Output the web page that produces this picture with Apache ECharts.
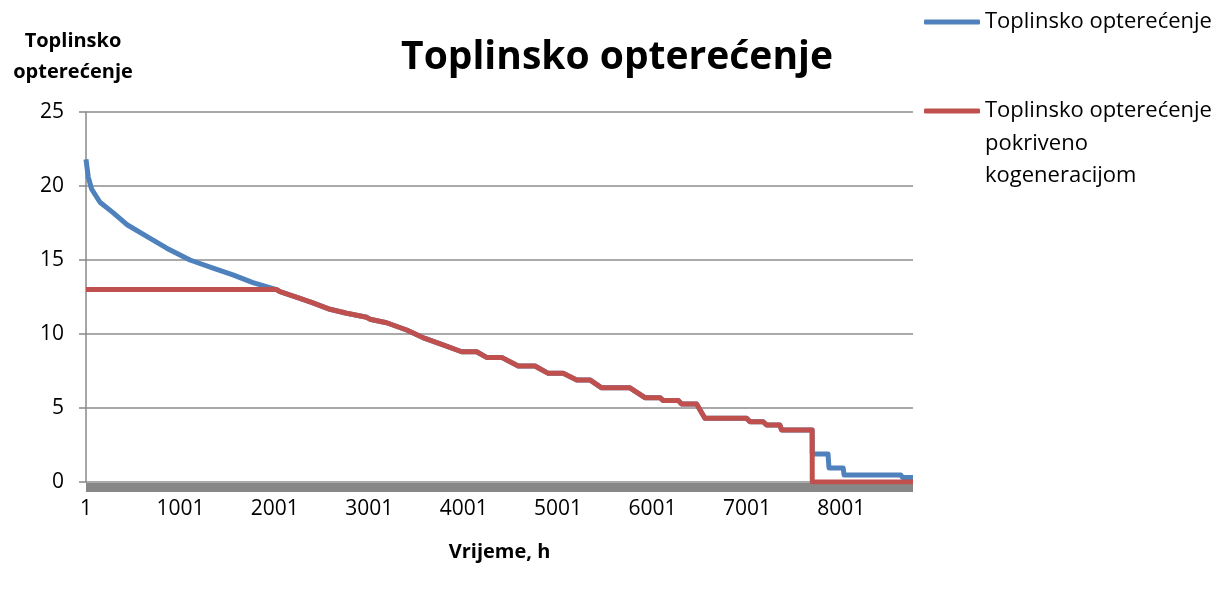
<!DOCTYPE html>
<html>
<head>
<meta charset="utf-8">
<script src="https://cdn.jsdelivr.net/npm/echarts@6/dist/echarts.min.js"></script>
<style>
html,body{margin:0;padding:0;background:#fff;}
#chart{width:1228px;height:589px;}
</style>
</head>
<body>
<div id="chart"></div>
<script>
// ---- data ----
const titleText = 'Toplinsko opterećenje';
const yAxisTitle = 'Toplinsko\nopterećenje';
const xAxisTitle = 'Vrijeme, h';
const seriesNames = ['Toplinsko opterećenje', 'Toplinsko opterećenje pokriveno kogeneracijom'];
const xTickLabels = [1, 1001, 2001, 3001, 4001, 5001, 6001, 7001, 8001];
const yTicks = [0, 5, 10, 15, 20, 25];

// Blue curve, hours 1..2020 (above the cogeneration cap)
const blueHeadHours = [1, 25, 60, 149, 287, 432, 644, 856, 1102, 1347, 1557, 1769, 2020];
const blueHeadLoad  = [21.8, 20.6, 19.8, 18.9, 18.2, 17.4, 16.6, 15.8, 15.0, 14.45, 14.0, 13.47, 13.0];

// Red flat part (capped at 13)
const redHeadHours = [1, 2020];
const redHeadLoad  = [13.0, 13.0];

// Shared part of both curves (2020..7692)
const sharedHours = [2055, 2267, 2404, 2585, 2762, 2974, 3008, 3185, 3397, 3591, 3768, 3980, 4138, 4244, 4403, 4579, 4756, 4897, 5055, 5198, 5338, 5462, 5762, 5921, 6080, 6115, 6274, 6310, 6468, 6556, 6998, 7034, 7173, 7209, 7350, 7368, 7692];
const sharedLoad  = [12.86, 12.41, 12.1, 11.67, 11.4, 11.13, 11.0, 10.76, 10.27, 9.7, 9.3, 8.8, 8.8, 8.42, 8.42, 7.84, 7.84, 7.34, 7.34, 6.9, 6.9, 6.36, 6.36, 5.7, 5.7, 5.5, 5.5, 5.27, 5.27, 4.3, 4.3, 4.07, 4.07, 3.85, 3.85, 3.51, 3.51];

// Tails
const blueTailHours = [7693, 7860, 7870, 8020, 8030, 8630, 8650, 8760];
const blueTailLoad  = [1.9, 1.9, 0.95, 0.95, 0.47, 0.47, 0.3, 0.3];
const redTailHours = [7693, 8760];
const redTailLoad  = [0, 0];

function pairs(hs, vs){ return hs.map((h,i)=>[h, vs[i]]); }
const blueData = pairs(blueHeadHours, blueHeadLoad).concat(pairs(sharedHours, sharedLoad), pairs(blueTailHours, blueTailLoad));
const redData  = pairs(redHeadHours, redHeadLoad).concat(pairs(sharedHours, sharedLoad), pairs(redTailHours, redTailLoad));

const FONT = '"Open Sans", Lato, sans-serif';
const chart = echarts.init(document.getElementById('chart'), null, {renderer:'canvas'});
chart.setOption({
  animation: false,
  backgroundColor: '#ffffff',
  textStyle: {fontFamily: FONT, color: '#000'},
  title: {
    text: titleText, left: 612, top: 33, textAlign: 'center',
    textStyle: {fontFamily: FONT, fontSize: 39, fontWeight: 'bold', color: '#000'}
  },
  legend: [
    {data: [seriesNames[0]], left: 924, top: 11, orient: 'vertical', padding: 0,
     icon: 'roundRect', itemWidth: 56, itemHeight: 5,
     textStyle: {fontFamily: FONT, fontSize: 22, color: '#000'}},
    {data: [seriesNames[1]], left: 924, top: 100, orient: 'vertical', padding: 0,
     icon: 'roundRect', itemWidth: 56, itemHeight: 5,
     formatter: () => 'Toplinsko opterećenje',
     textStyle: {fontFamily: FONT, fontSize: 22, color: '#000'}}
  ],
  graphic: [
    {type: 'text', left: 985, top: 128,
     style: {text: 'pokriveno\nkogeneracijom', font: '22px ' + FONT, fill: '#000', lineHeight: 32}}
  ],
  grid: {left: 86, right: 315, top: 112, bottom: 107, containLabel: false},
  xAxis: {
    type: 'value', min: 1, max: 8760,
    offset: 5,
    name: xAxisTitle, nameLocation: 'middle', nameGap: 55,
    nameTextStyle: {fontFamily: FONT, fontSize: 20, fontWeight: 'bold', color: '#000'},
    axisLine: {show: true, onZero: false, lineStyle: {color: '#878787', width: 9, cap: 'butt'}},
    axisTick: {show: false},
    splitLine: {show: false},
    axisLabel: {customValues: xTickLabels, formatter: v => String(v), margin: 12, fontFamily: FONT, fontSize: 21, color: '#000'}
  },
  yAxis: {
    type: 'value', min: 0, max: 25, interval: 5,
    name: yAxisTitle, nameLocation: 'end', nameGap: 24,
    nameTextStyle: {fontFamily: FONT, fontSize: 20, fontWeight: 'bold', color: '#000', align: 'center', lineHeight: 31, padding: [0, 26, 0, 0]},
    axisLine: {show: true, lineStyle: {color: '#888', width: 1.5}},
    axisTick: {show: true, length: 7, lineStyle: {color: '#888', width: 1.5}},
    splitLine: {show: true, lineStyle: {color: '#8e8e8e', width: 1.5}},
    axisLabel: {margin: 22, fontFamily: FONT, fontSize: 21, color: '#000'}
  },
  series: [
    {name: seriesNames[0], type: 'line', data: blueData, showSymbol: false, symbol: 'none',
     color: '#4F81BD', lineStyle: {width: 5, color: '#4F81BD', join: 'round'}},
    {name: seriesNames[1], type: 'line', data: redData, showSymbol: false, symbol: 'none',
     color: '#C0504D', lineStyle: {width: 5, color: '#C0504D', join: 'round'}}
  ]
});
</script>
</body>
</html>
